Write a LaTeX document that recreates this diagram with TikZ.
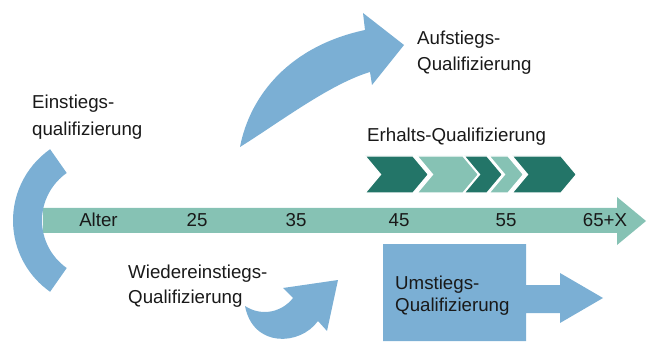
\documentclass[tikz,border=0pt]{standalone}
\usepackage{fontspec}
\setmainfont{Liberation Sans}
\usetikzlibrary{calc}
\definecolor{qblue}{RGB}{123,175,212}
\definecolor{qdark}{RGB}{35,117,104}
\definecolor{qlight}{RGB}{134,194,180}
\definecolor{qtext}{RGB}{25,25,25}
\newcommand\qchev[4]{%
  \filldraw[chev=#1] (#2,156) -- (#3,156) -- (#3+15.5,174.5) -- (#3,193) -- (#2,193) -- (#2+15.5,174.5) -- cycle;}
\begin{document}
\begin{tikzpicture}[x=1pt,y=-1pt,
  lbl/.style={font=\fontsize{18.7}{26}\selectfont, text=qtext, inner sep=0pt, align=left},
  axl/.style={font=\fontsize{18.7}{22}\selectfont, text=qtext, inner sep=0pt, anchor=base},
  chev/.style={fill=#1, draw=white, line width=1.3pt, line join=miter}]
\useasboundingbox (0,0) rectangle (647,347);
% time axis
\fill[qlight] (43,208) -- (617,208) -- (617,197) -- (646,221) -- (617,245) -- (617,233) -- (43,233) -- cycle;
% Einstieg arc
\fill[qblue] ($(100,220.5)+(125:87pt)$) arc[start angle=125,end angle=235,radius=87pt]
  -- ($(100,220.5)+(235:58pt)$) arc[start angle=235,end angle=125,radius=58pt] -- cycle;
% Aufstieg arrow
\fill[qblue] (240,147) .. controls (250,95) and (290,46) .. (365,30) -- (363,13) -- (404,45)
  -- (372,85) -- (370,72) .. controls (330,84) and (280,122) .. (240,147) -- cycle;
% Wiedereinstieg arrow
\fill[qblue] (245,306) .. controls (262,317) and (282,312) .. (293,298) -- (283,288) -- (338,280)
  -- (327,331) -- (318,321) .. controls (300,346) and (253,348) .. (245,306) -- cycle;
% Umstieg box with arrow
\fill[qblue] (383,244) -- (526,244) -- (526,285) -- (560,285) -- (560,273) -- (603,298)
  -- (560,323) -- (560,313) -- (526,313) -- (526,341) -- (383,341) -- cycle;
% Erhalt chevrons
\qchev{qdark}{365}{413}{}
\qchev{qdark}{464}{487}{}
\qchev{qlight}{417}{463}{}
\qchev{qlight}{489}{508}{}
\qchev{qdark}{512}{561}{}
% labels
\node[lbl, font=\fontsize{18.7}{27}\selectfont, anchor=west] (einstieg) at (32,117) {Einstiegs-\\qualifizierung};
\node[lbl, anchor=west] (aufstieg) at (417,53) {Aufstiegs-\\Qualifizierung};
\node[lbl, anchor=base west] (erhalt) at (367,142) {Erhalts-Qualifizierung};
\node[lbl, font=\fontsize{18.7}{25}\selectfont, anchor=west] (wieder) at (128,286) {Wiedereinstiegs-\\Qualifizierung};
\node[lbl, font=\fontsize{18.7}{22}\selectfont, anchor=west] (umstieg) at (395,296) {Umstiegs-\\Qualifizierung};
% axis labels
\node[axl] (alter) at (98.5,226) {Alter};
\node[axl] (a25) at (197,226) {25};
\node[axl] (a35) at (296,226) {35};
\node[axl] (a45) at (399,226) {45};
\node[axl] (a55) at (506,226) {55};
\node[axl] (a65) at (605,226) {65+X};
\end{tikzpicture}
\end{document}
